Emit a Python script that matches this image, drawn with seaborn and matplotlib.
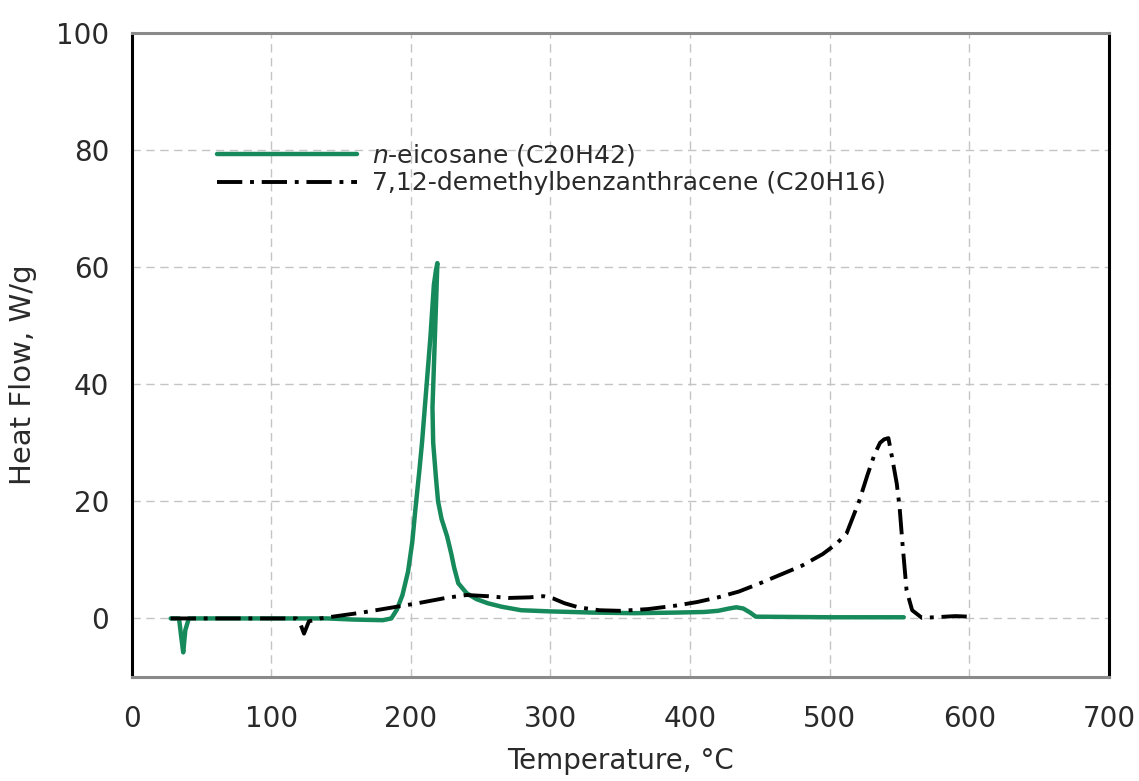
import matplotlib
matplotlib.use("Agg")
import matplotlib.pyplot as plt
import seaborn as sns
import pandas as pd

# ---- data ----
eic_temp = [28, 34, 35.5, 37, 38.5, 41, 60, 100, 140, 160,
            180, 186, 190, 194, 198, 201, 203, 206, 208, 210,
            212, 214, 216.5, 218, 219, 218.5, 217.5, 216.5, 215.5, 216,
            218, 219.5, 222, 226, 229, 231, 234, 240, 247, 255,
            265, 279, 300, 330, 360, 390, 410, 420, 428, 433,
            438, 443, 447, 500, 553]
eic_flow = [0, 0, -3, -5.8, -2, 0, 0, 0, 0, -0.2,
            -0.3, 0, 1.5, 4, 8, 13, 18, 25, 30, 36,
            42, 48, 57, 59.5, 60.7, 57, 50, 43, 36, 30,
            24, 20, 17, 14, 11, 8.7, 6, 4.3, 3.3, 2.6,
            2.0, 1.4, 1.2, 1.0, 0.9, 1.0, 1.1, 1.3, 1.7, 1.9,
            1.7, 1.0, 0.3, 0.2, 0.2]

dmba_temp = [28, 60, 100, 118, 121, 123.5, 127, 135, 150, 165,
             185, 205, 225, 240, 255, 270, 285, 295, 302, 310,
             320, 335, 350, 370, 390, 405, 420, 435, 450, 465,
             480, 495, 505, 512, 521, 527, 532, 536, 539, 542,
             545, 548, 550, 552, 555, 559, 566, 575, 590, 600]
dmba_flow = [0, 0, 0, 0, -1, -2.6, -0.5, 0, 0.5, 1.0,
             1.8, 2.6, 3.5, 4.0, 3.8, 3.5, 3.6, 3.8, 3.4, 2.6,
             1.9, 1.4, 1.3, 1.6, 2.2, 2.8, 3.6, 4.6, 6.0, 7.5,
             9.0, 11.0, 12.8, 14.5, 20, 24.5, 28, 30, 30.6, 30.8,
             27, 23, 19, 13, 4.8, 1.4, 0.1, 0.2, 0.4, 0.3]

labels = ["$n$-eicosane (C20H42)", "7,12-demethylbenzanthracene (C20H16)"]
xticks = [0, 100, 200, 300, 400, 500, 600, 700]
yticks = [0, 20, 40, 60, 80, 100]

eic = pd.DataFrame({"T": eic_temp, "HF": eic_flow})
dmba = pd.DataFrame({"T": dmba_temp, "HF": dmba_flow})

sns.set_style("white")
plt.rcParams["font.family"] = ["DejaVu Sans"]
plt.rcParams["mathtext.fontset"] = "dejavusans"

fig = plt.figure(figsize=(11.39, 7.81), dpi=100)
ax = fig.add_axes([0.1155, 0.1332, 0.8582, 0.8245])

green = "#178a5c"
txt = "#2a2a2a"
sns.lineplot(data=eic, x="T", y="HF", sort=False, estimator=None,
             color=green, lw=3.2, label=labels[0], ax=ax)
sns.lineplot(data=dmba, x="T", y="HF", sort=False, estimator=None,
             color="black", lw=2.8, ls=(0, (6.5, 2, 1, 2)),
             label=labels[1], ax=ax)

ax.set_xlim(0, 700)
ax.set_ylim(-10, 100)
ax.set_xticks(xticks)
ax.set_yticks(yticks)

ax.grid(True, color="#c4c4c4", lw=1.0, ls=(0, (6, 4)))
ax.set_axisbelow(True)

for side in ["top", "bottom"]:
    ax.spines[side].set_color("#8a8a8a")
    ax.spines[side].set_linewidth(2.2)
for side in ["left", "right"]:
    ax.spines[side].set_color("black")
    ax.spines[side].set_linewidth(2.2)

ax.tick_params(axis="x", direction="out", length=8, width=1.2,
               colors="black", labelcolor=txt, labelsize=20, pad=12)
ax.tick_params(axis="y", direction="out", length=6, width=1.2,
               colors="black", labelcolor=txt, labelsize=20, pad=10)

ax.set_xlabel("Temperature, °C", fontsize=20, color=txt, labelpad=10)
ax.set_ylabel("Heat Flow, W/g", fontsize=21, color=txt)
ax.yaxis.set_label_coords(-0.097, 0.469)

ax.legend(loc="upper left", bbox_to_anchor=(0.064, 0.865), frameon=False,
          fontsize=18, handlelength=5.6, handletextpad=0.6,
          labelspacing=0.12, labelcolor=txt)

fig.savefig("out.png", dpi=100)
